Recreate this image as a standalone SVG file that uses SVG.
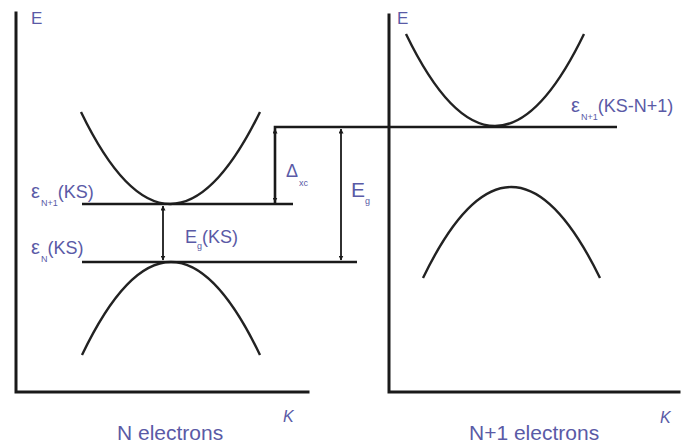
<svg xmlns="http://www.w3.org/2000/svg" width="688" height="448" viewBox="0 0 688 448">
<defs>
<style>
.ax{fill:none;stroke:#1a1a1a;stroke-width:3;stroke-linecap:square}
.lv{fill:none;stroke:#1a1a1a;stroke-width:2.6}
.band{fill:none;stroke:#222;stroke-width:2.4}
.arr{fill:none;stroke:#1a1a1a;stroke-width:1.8;marker-start:url(#ah);marker-end:url(#ah)}
text{font-family:"Liberation Sans",Arial,sans-serif;fill:#5a5aa6}
.lab{font-size:18px}
.eps{font-size:20px}
.sub{font-size:9px}
.big{font-size:21px}
.k{font-size:16px;font-style:italic}
</style>
<marker id="ah" viewBox="0 0 10 10" refX="9" refY="5" markerWidth="5" markerHeight="5" orient="auto-start-reverse" markerUnits="userSpaceOnUse">
<path d="M0,0 L10,5 L0,10 Z" fill="#1a1a1a"/>
</marker>
</defs>
<rect width="688" height="448" fill="#ffffff"/>

<g id="left-panel">
<path class="ax" d="M16,13 V392 H308"/>
<text x="31" y="24" style="font-size:17px">E</text>
<text x="283" y="422" class="k">K</text>
<text x="117" y="440" class="big">N electrons</text>
</g>

<g id="right-panel">
<path class="ax" d="M389,15 V392 H679"/>
<text x="397" y="24" style="font-size:17px">E</text>
<text x="660" y="423" class="k">K</text>
<text x="469" y="440" class="big">N+1 electrons</text>
</g>

<g id="left-bands">
<path class="band" d="M81,112 Q170,296 260,112"/>
<path class="band" d="M82,355 Q171,169 260,355"/>
</g>

<g id="right-bands">
<path class="band" d="M406,34 Q495,218 584,34"/>
<path class="band" d="M423,278 Q511,96 600,278"/>
</g>

<g id="level-eN1">
<line class="lv" x1="82" y1="204" x2="293" y2="204"/>
<text x="31" y="198" class="lab"><tspan class="eps">ε</tspan><tspan class="sub" dx="1" dy="8">N+1</tspan><tspan dy="-8">(KS)</tspan></text>
</g>

<g id="level-eN">
<line class="lv" x1="82" y1="262" x2="357" y2="262"/>
<text x="31" y="254" class="lab"><tspan class="eps">ε</tspan><tspan class="sub" dx="1" dy="8">N</tspan><tspan dy="-8">(KS)</tspan></text>
</g>

<g id="level-eN1-N1">
<path class="lv" d="M275,205 V127 H617"/>
<text x="571" y="112" class="lab"><tspan class="eps">ε</tspan><tspan class="sub" dx="1" dy="8">N+1</tspan><tspan dy="-8">(KS-N+1)</tspan></text>
</g>

<g id="connectors">
<line class="arr" x1="163" y1="206" x2="163" y2="260"/>
<line class="arr" x1="275" y1="129" x2="275" y2="202"/>
<line class="arr" x1="341" y1="129" x2="341" y2="260"/>
</g>

<g id="label-egks">
<text x="185" y="243" class="lab">E<tspan class="sub" dx="0" dy="6">g</tspan><tspan dy="-6">(KS)</tspan></text>
</g>
<g id="label-dxc">
<text x="286" y="177" class="lab">Δ<tspan class="sub" dx="1" dy="9">xc</tspan></text>
</g>
<g id="label-eg">
<text x="351" y="197" style="font-size:21px">E<tspan class="sub" dx="0" dy="7">g</tspan></text>
</g>
</svg>
